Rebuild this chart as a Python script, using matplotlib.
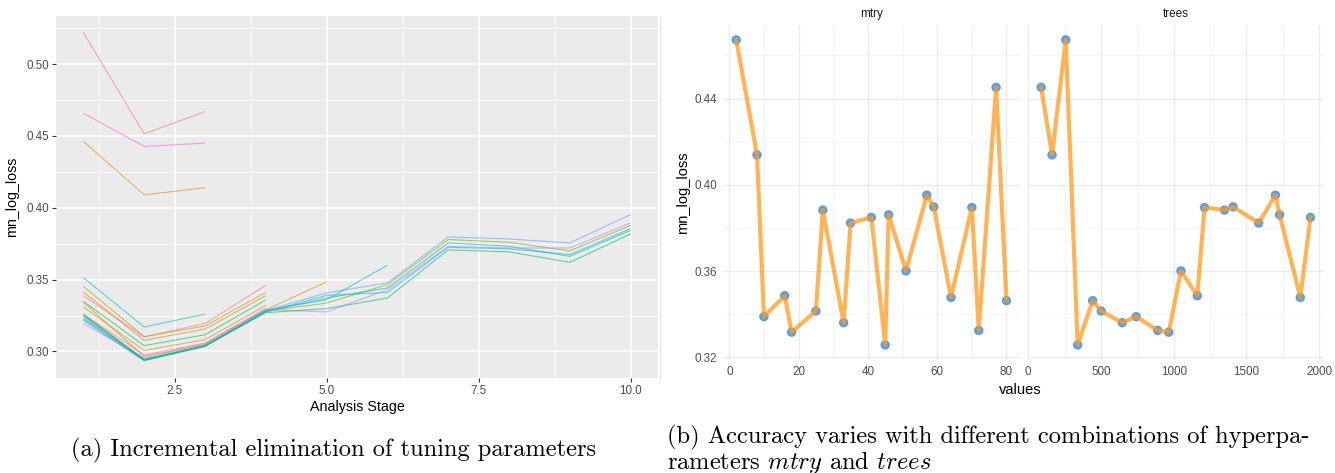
import matplotlib
matplotlib.use("Agg")
import matplotlib.pyplot as plt
from matplotlib.lines import Line2D
import numpy as np

plt.rcParams['font.family'] = ['Liberation Sans', 'DejaVu Sans']
plt.rcParams['mathtext.fontset'] = 'cm'

# ---- (a) incremental elimination: mn_log_loss per analysis stage ----
stage_lines = [
    # (values from stage 1 onwards, colour)
    ([0.5220, 0.4515, 0.4669], '#F8766D'),
    ([0.4657, 0.4427, 0.4450], '#FF61C3'),
    ([0.4462, 0.4090, 0.4139], '#E68613'),
    ([0.3514, 0.3170, 0.3260], '#00BFC4'),
    ([0.3388, 0.3100, 0.3195, 0.3460], '#FF6C91'),
    ([0.3453, 0.3103, 0.3177, 0.3411], '#ABA300'),
    ([0.3414, 0.3077, 0.3156, 0.3388], '#E68613'),
    ([0.3349, 0.3040, 0.3116, 0.3358], '#00BE67'),
    ([0.3310, 0.3007, 0.3082, 0.3320], '#C09B00'),
    ([0.3260, 0.2975, 0.3058, 0.3300], '#FF61C3'),
    ([0.3342, 0.2965, 0.3050, 0.3290, 0.3484], '#D39200'),
    ([0.3250, 0.2945, 0.3040, 0.3285, 0.3360, 0.3600], '#00A9FF'),
    ([0.3226, 0.2940, 0.3038, 0.3285, 0.3407, 0.3477, 0.3797, 0.3783, 0.3755, 0.3953], '#619CFF'),
    ([0.3260, 0.2945, 0.3042, 0.3280, 0.3337, 0.3465, 0.3779, 0.3760, 0.3700, 0.3878], '#7CAE00'),
    ([0.3216, 0.2935, 0.3035, 0.3278, 0.3372, 0.3442, 0.3755, 0.3732, 0.3662, 0.3843], '#00C19A'),
    ([0.3193, 0.2955, 0.3050, 0.3292, 0.3275, 0.3430, 0.3732, 0.3720, 0.3720, 0.3895], '#C77CFF'),
    ([0.3235, 0.2938, 0.3036, 0.3275, 0.3390, 0.3411, 0.3725, 0.3714, 0.3674, 0.3855], '#00B8E7'),
    ([0.3250, 0.2942, 0.3037, 0.3270, 0.3298, 0.3372, 0.3707, 0.3693, 0.3620, 0.3818], '#00BE67'),
]

# ---- (b) mn_log_loss against hyperparameter values ----
mtry_values = [2, 8, 10, 16, 18, 25, 27, 33, 35, 41, 45, 46, 51, 57, 59, 64, 70, 72, 77, 80]
mtry_loss = [0.4672, 0.4139, 0.3389, 0.3486, 0.3317, 0.3415, 0.3883, 0.3361, 0.3823, 0.3849,
             0.3258, 0.3861, 0.3601, 0.3952, 0.3898, 0.3478, 0.3895, 0.3325, 0.4452, 0.3463]
trees_values = [89, 164, 258, 340, 443, 502, 646, 742, 890, 966,
                1050, 1162, 1212, 1349, 1408, 1584, 1699, 1728, 1870, 1940]
trees_loss = [0.4452, 0.4139, 0.4672, 0.3258, 0.3463, 0.3415, 0.3361, 0.3389, 0.3325, 0.3317,
              0.3601, 0.3486, 0.3895, 0.3883, 0.3898, 0.3823, 0.3952, 0.3861, 0.3478, 0.3849]

W, H = 1335, 473


def box(x0, y0, x1, y1):
    """pixel box (top-left origin) -> figure fraction rect"""
    return [x0 / W, 1 - y1 / H, (x1 - x0) / W, (y1 - y0) / H]


fig = plt.figure(figsize=(W / 100, H / 100), dpi=100)

# ---------------- left: ggplot grey panel ----------------
ax = fig.add_axes(box(56, 16, 658, 378))
ax.set_facecolor('#EBEBEB')
for vals, col in stage_lines:
    stages = np.arange(1, len(vals) + 1)
    ax.plot(stages, vals, color=col, alpha=0.6, linewidth=0.8, solid_capstyle='butt')

ax.set_xlim(0.55, 10.45)
ax.set_ylim(0.2815, 0.5335)
ax.set_xticks([2.5, 5.0, 7.5, 10.0])
ax.set_xticks([1.25, 3.75, 6.25, 8.75], minor=True)
ax.set_yticks([0.30, 0.35, 0.40, 0.45, 0.50])
ax.set_yticks([0.325, 0.375, 0.425, 0.475, 0.525], minor=True)
ax.set_xticklabels(['2.5', '5.0', '7.5', '10.0'])
ax.set_yticklabels(['0.30', '0.35', '0.40', '0.45', '0.50'])
ax.grid(True, which='major', color='white', linewidth=1.1)
ax.grid(True, which='minor', color='white', linewidth=0.55)
ax.set_axisbelow(True)
for s in ax.spines.values():
    s.set_visible(False)
ax.tick_params(which='major', length=3, width=0.8, color='#333333',
               labelsize=8.4, labelcolor='#4D4D4D', pad=2)
ax.tick_params(which='minor', length=0)
ax.set_xlabel('Analysis Stage', fontsize=10.3, labelpad=2)
ax.set_ylabel('mn_log_loss', fontsize=10.3, labelpad=5)

# ---------------- right: two facets, minimal theme ----------------
facets = [
    ('mtry', mtry_values, mtry_loss, box(722.7, 25, 1020, 360), (-1.9, 83.9),
     [0, 20, 40, 60, 80], [10, 30, 50, 70]),
    ('trees', trees_values, trees_loss, box(1027.7, 25, 1324, 360), (-3.5, 2033),
     [0, 500, 1000, 1500, 2000], [250, 750, 1250, 1750]),
]
for i, (name, xv, yv, rect, xlim, xt, xtm) in enumerate(facets):
    a = fig.add_axes(rect)
    a.scatter(xv, yv, s=46, color='#56A0EC', edgecolors='none', zorder=3)
    a.plot(xv, yv, color='#FF9A1F', alpha=0.75, linewidth=3.0, zorder=4,
           solid_joinstyle='round')
    a.set_xlim(*xlim)
    a.set_ylim(0.3188, 0.4741)
    a.set_xticks(xt)
    a.set_xticks(xtm, minor=True)
    a.set_yticks([0.32, 0.36, 0.40, 0.44])
    a.set_yticks([0.34, 0.38, 0.42, 0.46], minor=True)
    a.grid(True, which='major', color='#EBEBEB', linewidth=1.0)
    a.grid(True, which='minor', color='#F2F2F2', linewidth=0.6)
    a.set_axisbelow(True)
    for s in a.spines.values():
        s.set_visible(False)
    a.tick_params(which='both', length=0, labelsize=8.4, labelcolor='#4D4D4D', pad=4)
    a.set_title(name, fontsize=8.5, color='#1A1A1A', pad=6)
    if i == 0:
        a.set_yticklabels(['0.32', '0.36', '0.40', '0.44'])
        a.set_ylabel('mn_log_loss', fontsize=10.5, labelpad=3)
    else:
        a.set_yticklabels([])

fig.text(1020 / W, 1 - 390 / H, 'values', fontsize=10.5, ha='center', va='center')

# faint edge of the second sub-figure
fig.add_artist(Line2D([660 / W, 660 / W], [1 - 380 / H, 1 - 16 / H],
                      color='#E6E6E6', linewidth=0.8))

# ---------------- captions ----------------
cap = dict(family='cmr10', fontsize=17.6)
fig.text(334 / W, 1 - 450 / H, '(a) Incremental elimination of tuning parameters',
         ha='center', va='center', **cap)
fig.text(667 / W, 1 - 437 / H,
         '(b) Accuracy varies with different combinations of hyperpa-',
         ha='left', va='center', **cap)
fig.text(667 / W, 1 - 462 / H, r'rameters $mtry$ and $trees$',
         ha='left', va='center', **cap)

plt.savefig('out.png', dpi=100)
plt.close()
